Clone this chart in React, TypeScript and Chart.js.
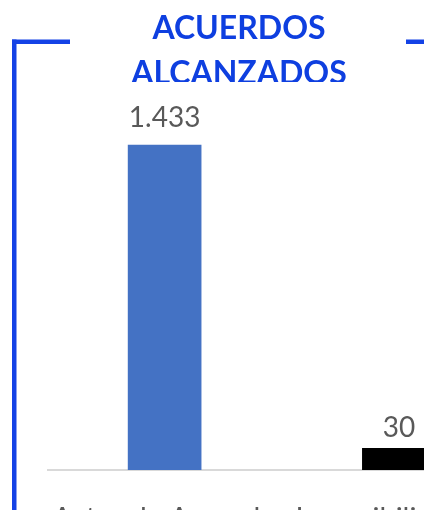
import React, { useEffect, useRef } from "react";
import { Chart, registerables } from "chart.js";

Chart.register(...registerables);

// ---- data ----
const categories: (string | string[])[] = ["Actas de Acuerdo", ["Imposibilidad de", "Acuerdo"]];
const actasValues: (number | null)[] = [1433, null];
const imposibilidadValues: (number | null)[] = [null, 30];
const titleLines: string[] = ["ACUERDOS", "ALCANZADOS"];

const BLUE_BAR = "#4472C4";
const BLACK_BAR = "#000000";
const FRAME_BLUE = "#1442E6";
const TITLE_BLUE = "#0E3FE0";
const TEXT_GRAY = "#595959";

function formatNum(v: number): string {
  return String(v).replace(/\B(?=(\d{3})+(?!\d))/g, ".");
}

const frameTitlePlugin = {
  id: "frameTitle",
  afterDraw(chart: any) {
    const ctx = chart.ctx as CanvasRenderingContext2D;
    ctx.save();
    ctx.fillStyle = FRAME_BLUE;
    ctx.fillRect(12, 39.5, 58, 4.5);
    ctx.fillRect(12, 39.5, 4.5, 700);
    ctx.fillRect(406, 39.5, 300, 4.5);
    ctx.beginPath();
    ctx.rect(0, 0, chart.width, 82);
    ctx.clip();
    ctx.fillStyle = TITLE_BLUE;
    ctx.font = "bold 32px Lato";
    ctx.textAlign = "center";
    ctx.textBaseline = "alphabetic";
    ctx.fillText(titleLines[0], 239, 38.5);
    ctx.fillText(titleLines[1], 239, 83.5);
    ctx.restore();
  },
};

const valueLabelPlugin = {
  id: "valueLabels",
  afterDatasetsDraw(chart: any) {
    const ctx = chart.ctx as CanvasRenderingContext2D;
    const offsets = [18, 11.5];
    ctx.save();
    ctx.fillStyle = TEXT_GRAY;
    ctx.font = "28px Lato";
    ctx.textAlign = "center";
    ctx.textBaseline = "alphabetic";
    chart.data.datasets.forEach((ds: any, di: number) => {
      const meta = chart.getDatasetMeta(di);
      meta.data.forEach((bar: any, i: number) => {
        const v = ds.data[i];
        if (v === null || v === undefined) return;
        ctx.fillText(formatNum(v), bar.x, bar.y - offsets[di]);
      });
    });
    ctx.restore();
  },
};

export default function App() {
  const ref = useRef<HTMLCanvasElement | null>(null);
  useEffect(() => {
    if (!ref.current) return;
    const chart = new Chart(ref.current, {
      type: "bar",
      data: {
        labels: categories,
        datasets: [
          {
            label: "Actas de Acuerdo",
            data: actasValues,
            backgroundColor: BLUE_BAR,
            yAxisID: "y",
            grouped: false,
            barPercentage: 0.3145,
            categoryPercentage: 1,
          } as any,
          {
            label: "Imposibilidad de Acuerdo",
            data: imposibilidadValues,
            backgroundColor: BLACK_BAR,
            yAxisID: "y2",
            grouped: false,
            barPercentage: 0.3145,
            categoryPercentage: 1,
          } as any,
        ],
      },
      options: {
        animation: false,
        responsive: false,
        maintainAspectRatio: false,
        layout: { padding: { left: 47.5, top: 100, right: 0, bottom: 0 } },
        plugins: {
          legend: { display: false },
          tooltip: { enabled: false },
          title: { display: false },
        },
        scales: {
          x: {
            type: "category",
            offset: true,
            grid: { display: false, drawTicks: true, tickLength: 31 },
            border: { display: true, color: "#D9D9D9", width: 2 },
            ticks: {
              color: TEXT_GRAY,
              font: { family: "Lato", size: 29, lineHeight: 1.2 },
              padding: 0,
              maxRotation: 0,
              minRotation: 0,
              autoSkip: false,
            },
            afterFit(scale: any) {
              scale.height = 130;
            },
          },
          y: { display: false, min: 0, max: 1630 },
          y2: { display: false, min: 0, max: 505, position: "right" },
        },
      },
      plugins: [frameTitlePlugin, valueLabelPlugin],
    });
    return () => chart.destroy();
  }, []);
  return (
    <div
      style={{
        position: "absolute",
        left: 0,
        top: 0,
        width: 424,
        height: 510,
        overflow: "hidden",
        background: "#ffffff",
      }}
    >
      <canvas ref={ref} width={516} height={600} style={{ width: 516, height: 600, display: "block" }} />
    </div>
  );
}
